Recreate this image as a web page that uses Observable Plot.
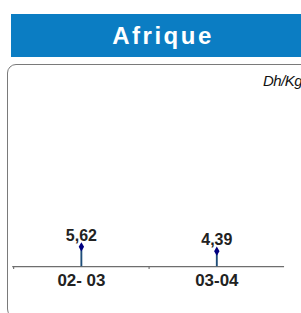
<!DOCTYPE html>
<html>
<head>
<meta charset="utf-8">
<script src="https://cdn.jsdelivr.net/npm/d3@7"></script>
<script src="https://cdn.jsdelivr.net/npm/@observablehq/plot@0.6"></script>
<style>
  html, body { margin: 0; padding: 0; background: #fff; }
  body { width: 301px; height: 313px; overflow: hidden; position: relative; font-family: "Liberation Sans", Arial, sans-serif; }
  #banner { position: absolute; left: 11px; top: 14px; width: 320px; height: 43px; background: #0B7DC3; }
  #banner span { position: absolute; left: 0; width: 304px; top: 0; line-height: 43px; text-align: center; color: #fff; font-weight: bold; font-size: 24px; letter-spacing: 2.5px; }
  #box { position: absolute; left: 7px; top: 64px; width: 330px; height: 252px; border: 1.5px solid #7a7a7a; border-radius: 9px; }
  #unit { position: absolute; left: 263px; top: 72px; font-style: italic; font-size: 15px; color: #111; white-space: nowrap; letter-spacing: -0.5px; }
  #chart { position: absolute; left: 0; top: 64px; }
</style>
</head>
<body>
<div id="banner"><span>Afrique</span></div>
<div id="box"></div>
<div id="unit">Dh/Kg</div>
<div id="chart"></div>
<script>
const categories = ["02- 03", "03-04"];
const values = [5.62, 4.39];
const valueLabels = ["5,62", "4,39"];

const data = categories.map((c, i) => ({cat: c, value: values[i], label: valueLabels[i]}));

const chart = Plot.plot({
  width: 320,
  height: 249,
  marginLeft: 14,
  marginRight: 18,
  marginTop: 20,
  marginBottom: 34,
  style: {background: "transparent", overflow: "visible"},
  x: {type: "band", domain: categories, padding: 0, label: null},
  y: {domain: [0, 52], axis: null},
  marks: [
    Plot.ruleY([0], {stroke: "#6e6e6e", strokeWidth: 1.3, insetLeft: -1}),
    Plot.ruleX(categories, {x: d => d, y1: 0, y2: -0.8, dx: -72, stroke: "#6e6e6e", strokeWidth: 1.2}),
    Plot.ruleX(data, {x: "cat", y1: 0, y2: "value", stroke: "#1F4E79", strokeWidth: 2}),
    Plot.dot(data, {x: "cat", y: "value", symbol: "diamond", r: 3, fill: "#000080", stroke: "none"}),
    Plot.text(data, {x: "cat", y: "value", text: "label", dy: -12, fontSize: 17, fontWeight: "bold", fill: "#222", fontFamily: "Liberation Sans, Arial, sans-serif"}),
    Plot.axisX({tickSize: 0, tickPadding: 8, fontSize: 18, fontWeight: "bold", fill: "#222", fontFamily: "Liberation Sans, Arial, sans-serif", label: null})
  ]
});
document.getElementById("chart").appendChild(chart);
</script>
</body>
</html>
